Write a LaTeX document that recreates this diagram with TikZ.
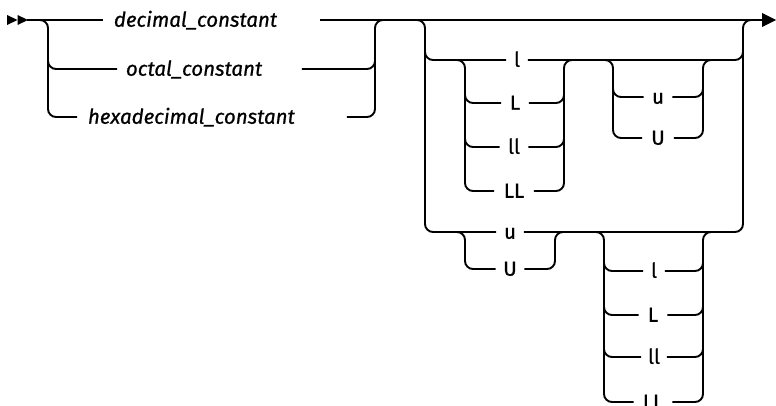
\documentclass[tikz,border=0pt]{standalone}
\usepackage{fontspec}
\newfontfamily\rrfont{Fira Sans}[FakeBold=0.8]
\begin{document}
\begin{tikzpicture}[x=1pt,y=-1pt,line width=1.9pt,rounded corners=8pt,
  lbl/.style={font=\rrfont\fontsize{20.5}{22}\selectfont,inner xsep=0pt,inner ysep=0pt,
    text height=13.5pt,text depth=0pt,minimum width=#1},
  itl/.style={font=\rrfont\itshape\fontsize{20.5}{22}\selectfont,anchor=west,inner ysep=0pt,
    text height=13.5pt,text depth=0pt,align=left},
  tip/.style={sharp corners,fill=black,draw=none}]
\useasboundingbox (0,0) rectangle (776,406);
% start / end markers
\fill[tip] (7,15) -- (17.5,20) -- (7,25) -- cycle;
\fill[tip] (17.5,15) -- (28,20) -- (17.5,25) -- cycle;
\coordinate (start) at (27,20);
\coordinate (stop) at (762,20);
\fill[tip] (762,13) -- (776,20) -- (762,27) -- cycle;
% first choice labels
\node[itl,inner xsep=10pt,text width=195pt] (dec) at (103,20) {decimal\_constant};
\node[itl,inner xsep=8pt,text width=167pt] (oct) at (117,69) {octal\_constant};
\node[itl,inner xsep=10pt,text width=248pt] (hex) at (77,117) {hexadecimal\_constant};
% main line
\draw (start) -- (dec.west);
\draw (dec.east) -- (stop);
% first choice branches
\draw (38,20) -- (48,20) -- (48,117) -- (hex.west);
\draw (48,61) -- (48,69) -- (oct.west);
\draw (oct.east) -- (375,69) -- (375,61);
\draw (hex.east) -- (375,117) -- (375,20) -- (383,20);
% second choice labels
\node[lbl=20pt] (l1) at (517,60) {l};
\node[lbl=26pt] (L1) at (515,103) {L};
\node[lbl=27pt] (ll1) at (514,147) {ll};
\node[lbl=38pt] (LL1) at (514,191) {LL};
\node[lbl=27pt] (u1) at (658,97) {u};
\node[lbl=30pt] (U1) at (658,138) {U};
\node[lbl=26pt] (u2) at (510,232) {u};
\node[lbl=27pt] (U2) at (510,269) {U};
\node[lbl=20pt] (l2) at (654,271) {l};
\node[lbl=27pt] (L2) at (653,315) {L};
\node[lbl=24pt] (ll2) at (654,357) {ll};
\node[lbl=37pt] (LL2) at (653,402) {LL};
% outer choice
\draw (415,20) -- (425,20) -- (425,232) -- (u2.west) (u2.east) -- (743,232) -- (743,20) -- (751,20);
\draw (425,52) -- (425,60) -- (l1.west) (l1.east) -- (743,60) -- (743,52);
% upper l list
\draw (457,60) -- (465,60) -- (465,191) -- (LL1.west) (LL1.east) -- (564,191) -- (564,60) -- (572,60);
\draw (465,95) -- (465,103) -- (L1.west) (L1.east) -- (564,103) -- (564,95);
\draw (465,139) -- (465,147) -- (ll1.west) (ll1.east) -- (564,147) -- (564,139);
% upper u list
\draw (605,60) -- (613,60) -- (613,138) -- (U1.west) (U1.east) -- (703,138) -- (703,60) -- (711,60);
\draw (613,89) -- (613,97) -- (u1.west) (u1.east) -- (703,97) -- (703,89);
% lower u list
\draw (457,232) -- (465,232) -- (465,269) -- (U2.west) (U2.east) -- (555,269) -- (555,232) -- (563,232);
% lower l list
\draw (596,232) -- (604,232) -- (604,402) -- (LL2.west) (LL2.east) -- (703,402) -- (703,232) -- (711,232);
\draw (604,263) -- (604,271) -- (l2.west) (l2.east) -- (703,271) -- (703,263);
\draw (604,307) -- (604,315) -- (L2.west) (L2.east) -- (703,315) -- (703,307);
\draw (604,349) -- (604,357) -- (ll2.west) (ll2.east) -- (703,357) -- (703,349);
\end{tikzpicture}
\end{document}
